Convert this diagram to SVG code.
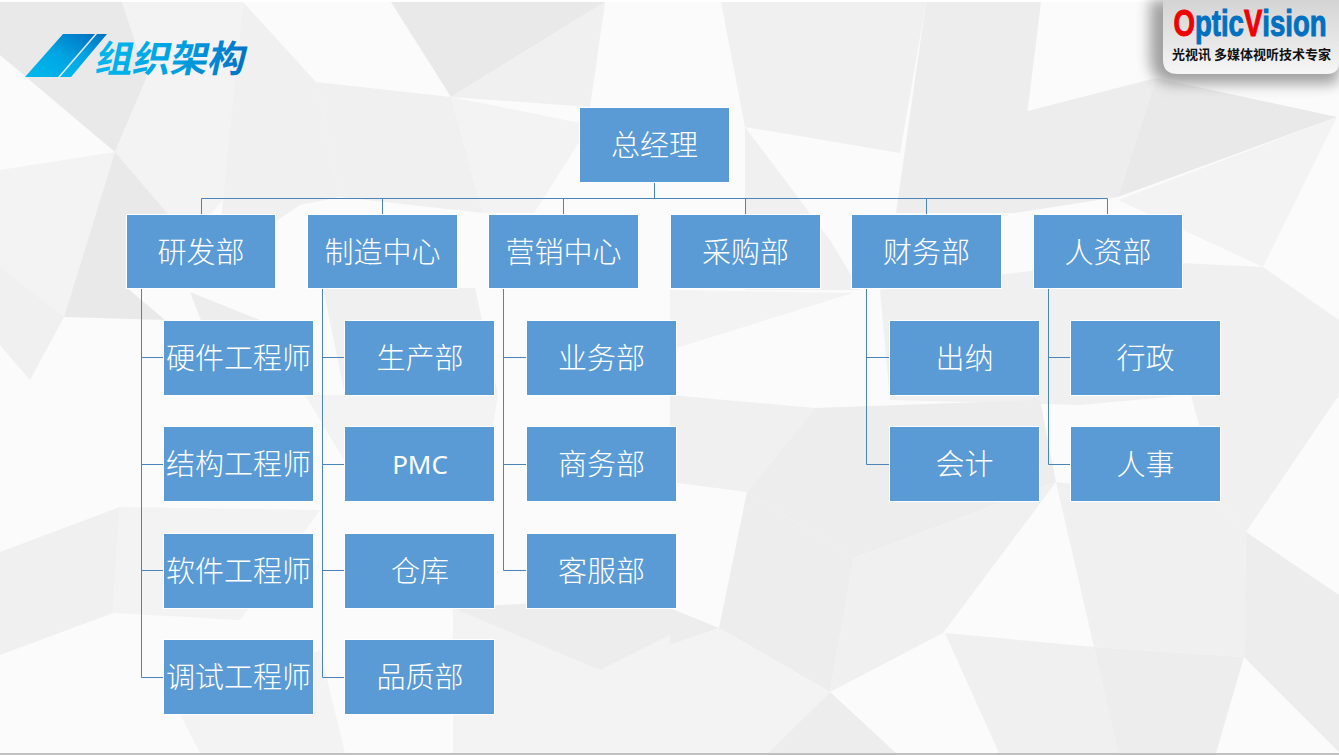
<svg xmlns="http://www.w3.org/2000/svg" width="1339" height="755" viewBox="0 0 1339 755">
<defs>
<linearGradient id="bar" x1="0" y1="1" x2="1" y2="0"><stop offset="0" stop-color="#00b9ef"/><stop offset="0.5" stop-color="#00a5e2"/><stop offset="1" stop-color="#0070c0"/></linearGradient>
<linearGradient id="ttl" x1="0" y1="0" x2="1" y2="0"><stop offset="0" stop-color="#00b7ee"/><stop offset="0.55" stop-color="#00a0e0"/><stop offset="1" stop-color="#0072c4"/></linearGradient>
<linearGradient id="panel" x1="0" y1="0" x2="0" y2="1"><stop offset="0" stop-color="#d4d4d4"/><stop offset="0.55" stop-color="#e6e6e6"/><stop offset="1" stop-color="#f6f6f6"/></linearGradient>
<filter id="shadow" x="-20%" y="-20%" width="140%" height="170%"><feGaussianBlur stdDeviation="7"/></filter>
</defs>
<style>
.n{fill:#5b9bd5;stroke:#fff;stroke-width:1}
.t{fill:#fff;font-family:"Noto Sans CJK SC","Noto Sans",sans-serif;font-weight:300;font-size:29px;text-anchor:middle}
.c{fill:none;stroke:#4a84ba;stroke-width:1}
.a{fill:#e9e9e9}.b{fill:#ededed}.d{fill:#f0f0f0}.e{fill:#f3f3f3}
</style>
<g id="background">
<rect width="1339" height="755" fill="#fbfbfb"/>
<polygon class="a" points="0,2 122,2 147,77 115,152 0,55"/>
<polygon class="e" points="122,2 243,2 225,197 190,240 115,152 147,77"/>
<polygon class="d" points="243,2 316,82 340,197 300,205 275,222 220,230"/>
<polygon class="a" points="391,2 605,2 451,97"/>
<polygon class="d" points="605,2 590,107 451,97"/>
<polygon class="d" points="316,82 451,97 483,213 340,197"/>
<polygon class="e" points="451,97 590,125 534,213 483,213"/>
<polygon class="e" points="0,170 115,152 64,317 0,267"/>
<polygon class="a" points="115,152 190,240 127,288 165,320 64,317"/>
<polygon class="d" points="0,267 64,317 30,380 0,345"/>
<polygon class="d" points="323,288 475,288 498,395 440,345 345,395"/>
<polygon class="b" points="190,292 260,320 290,395 230,395"/>
<polygon class="d" points="0,552 120,507 113,613 0,655"/>
<polygon class="e" points="305,395 498,395 480,500 350,470"/>
<polygon class="e" points="120,507 320,510 240,620 113,613"/>
<polygon class="e" points="453,608 670,595 670,753 453,753"/>
<polygon class="b" points="453,608 600,670 670,635 670,595"/>
<polygon class="e" points="180,714 320,650 345,753 200,753"/>
<polygon class="d" points="721,2 926,2 900,153 745,127"/>
<polygon class="b" points="926,2 1041,2 1015,213 896,213"/>
<polygon class="b" points="1020,113 1156,78 1118,197 1015,213"/>
<polygon class="a" points="1156,78 1337,117 1118,197"/>
<polygon class="e" points="1118,200 1337,117 1263,267"/>
<polygon class="d" points="745,127 830,240 860,290 745,290"/>
<polygon class="e" points="670,290 853,293 670,350"/>
<polygon class="d" points="880,290 1118,260 1263,267 1339,320 1339,395 1190,395 1080,405 890,400"/>
<polygon class="d" points="670,395 815,408 747,492 670,482"/>
<polygon class="b" points="815,408 1040,400 1056,482 854,558 747,492"/>
<polygon class="d" points="1191,395 1339,395 1246,532 1220,503"/>
<polygon class="b" points="747,492 854,558 830,692 719,628"/>
<polygon class="d" points="854,558 1056,482 943,633 830,692"/>
<polygon class="d" points="1056,482 1220,503 1246,532 1244,657 1094,647"/>
<polygon class="b" points="1246,532 1339,595 1339,752 1244,657"/>
<polygon class="d" points="945,633 1094,647 1118,753 999,753"/>
<polygon class="b" points="1094,647 1244,657 1216,753 1118,753"/>
<polygon class="b" points="830,692 896,753 768,753"/>
<polygon class="e" points="670,645 719,628 830,692 768,753 670,753"/>
<polygon class="b" points="670,608 719,628 670,645"/>
<rect y="0" width="1339" height="2" fill="#fff"/>
<rect y="753" width="1339" height="2" fill="#bfbfbf"/>
</g>
<g id="title">
<polygon points="25,77 63,34 95,34 58,77" fill="url(#bar)"/>
<polygon points="60,77 97,34 107,34 71,77" fill="url(#bar)"/>
<text transform="translate(94,72) skewX(-12)" font-family="'Noto Sans CJK SC',sans-serif" font-weight="700" font-size="37" fill="url(#ttl)" textLength="150" lengthAdjust="spacingAndGlyphs">组织架构</text>
</g>
<g id="logo">
<path d="M1150,0H1339V78Q1339,84 1325,84H1175Q1150,84 1150,56Z" fill="#a0a0a0" filter="url(#shadow)"/>
<path d="M1163,0H1339V62Q1339,74 1327,74H1178Q1163,74 1163,60Z" fill="url(#panel)"/>
<text transform="translate(1173.5,36) scale(.745,1)" font-family="'Liberation Sans',sans-serif" font-weight="700" font-size="37" fill="#0070c0" stroke="#0070c0" stroke-width="1"><tspan fill="#f00000" stroke="#f00000">O</tspan>ptic<tspan fill="#f00000" stroke="#f00000">V</tspan>ision</text>
<text x="1172" y="59" font-family="'Noto Sans CJK SC',sans-serif" font-weight="700" font-size="13" fill="#111">光视讯 多媒体视听技术专家</text>
</g>
<g id="connectors">
<path class="c" d="M654.5,182V198.5M201.5,215V198.5H1107.5V215M382.5,198.5V215M563.5,198.5V215M745.5,198.5V215M926.5,198.5V215"/>
<path class="c" d="M141.5,288V677.5H164M141.5,357.5H164M141.5,464.5H164M141.5,570.5H164"/>
<path class="c" d="M322.5,288V677.5H345M322.5,357.5H345M322.5,464.5H345M322.5,570.5H345"/>
<path class="c" d="M503.5,288V570.5H527M503.5,357.5H527M503.5,464.5H527"/>
<path class="c" d="M866.5,288V464.5H890M866.5,357.5H890"/>
<path class="c" d="M1048.5,288V464.5H1071M1048.5,357.5H1071"/>
</g>
<g id="n0"><rect class="n" x="579.5" y="107.5" width="150" height="75"/><text class="t" x="654.5" y="156">总经理</text></g>
<g id="n1"><rect class="n" x="126.5" y="214.5" width="149" height="74"/><text class="t" x="201" y="263">研发部</text></g>
<g id="n2"><rect class="n" x="307.5" y="214.5" width="150" height="74"/><text class="t" x="382.5" y="263">制造中心</text></g>
<g id="n3"><rect class="n" x="488.5" y="214.5" width="150" height="74"/><text class="t" x="563.5" y="263">营销中心</text></g>
<g id="n4"><rect class="n" x="670.5" y="214.5" width="150" height="74"/><text class="t" x="745.5" y="263">采购部</text></g>
<g id="n5"><rect class="n" x="851.5" y="214.5" width="150" height="74"/><text class="t" x="926.5" y="263">财务部</text></g>
<g id="n6"><rect class="n" x="1033.5" y="214.5" width="149" height="74"/><text class="t" x="1108" y="263">人资部</text></g>
<g id="n7"><rect class="n" x="163.5" y="320.5" width="150" height="75"/><text class="t" x="238.5" y="369">硬件工程师</text></g>
<g id="n8"><rect class="n" x="163.5" y="426.5" width="150" height="75"/><text class="t" x="238.5" y="475">结构工程师</text></g>
<g id="n9"><rect class="n" x="163.5" y="533.5" width="150" height="75"/><text class="t" x="238.5" y="582">软件工程师</text></g>
<g id="n10"><rect class="n" x="163.5" y="639.5" width="150" height="75"/><text class="t" x="238.5" y="688">调试工程师</text></g>
<g id="n11"><rect class="n" x="344.5" y="320.5" width="150" height="75"/><text class="t" x="420" y="369">生产部</text></g>
<g id="n12"><rect class="n" x="344.5" y="426.5" width="150" height="75"/><text class="t" x="420" y="474" style="font-family:'Noto Sans',sans-serif;font-weight:400;font-size:26px">PMC</text></g>
<g id="n13"><rect class="n" x="344.5" y="533.5" width="150" height="75"/><text class="t" x="420" y="582">仓库</text></g>
<g id="n14"><rect class="n" x="344.5" y="639.5" width="150" height="75"/><text class="t" x="420" y="688">品质部</text></g>
<g id="n15"><rect class="n" x="526.5" y="320.5" width="150" height="75"/><text class="t" x="601.5" y="369">业务部</text></g>
<g id="n16"><rect class="n" x="526.5" y="426.5" width="150" height="75"/><text class="t" x="601.5" y="475">商务部</text></g>
<g id="n17"><rect class="n" x="526.5" y="533.5" width="150" height="75"/><text class="t" x="601.5" y="582">客服部</text></g>
<g id="n18"><rect class="n" x="889.5" y="320.5" width="150" height="75"/><text class="t" x="964.5" y="369">出纳</text></g>
<g id="n19"><rect class="n" x="889.5" y="426.5" width="150" height="75"/><text class="t" x="964.5" y="475">会计</text></g>
<g id="n20"><rect class="n" x="1070.5" y="320.5" width="150" height="75"/><text class="t" x="1145.5" y="369">行政</text></g>
<g id="n21"><rect class="n" x="1070.5" y="426.5" width="150" height="75"/><text class="t" x="1145.5" y="475">人事</text></g>
</svg>
